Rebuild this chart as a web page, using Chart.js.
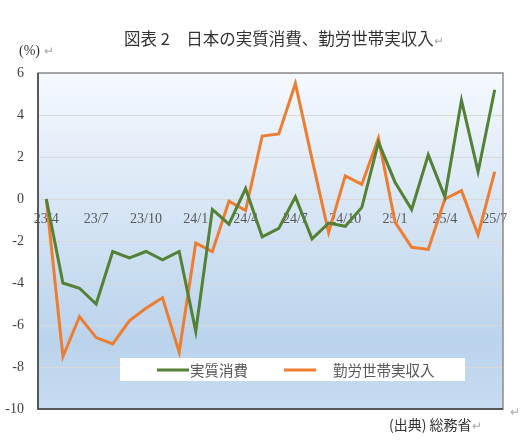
<!DOCTYPE html>
<html>
<head>
<meta charset="utf-8">
<script src="https://cdn.jsdelivr.net/npm/chart.js@4"></script>
<style>
  body { margin: 0; background: #fff; }
  #wrap { position: relative; width: 529px; height: 443px; }
  .txt { position: absolute; white-space: nowrap; color: #333; font-family: "Noto Sans CJK JP", sans-serif; }
  .ret { color: #aaa; font-size: 12px; }
</style>
</head>
<body>
<div id="wrap">
  <canvas id="chart" width="529" height="443"></canvas>
  <div class="txt" style="left:124px; top:26px; font-size:16.5px;">図表 2　日本の実質消費、勤労世帯実収入<span class="ret">↵</span></div>
  <div class="txt" style="left:19px; top:43px; font-size:14px; font-family:'Liberation Serif',serif;">(%) <span class="ret">↵</span></div>
  <div class="txt" style="left:389px; top:414px; font-size:14px;">(出典) 総務省<span class="ret">↵</span></div>
  <div class="txt ret" style="left:510px; top:402px;">↵</div>
</div>
<script>
const months = ['23/4', '23/5', '23/6', '23/7', '23/8', '23/9', '23/10', '23/11', '23/12',
                '24/1', '24/2', '24/3', '24/4', '24/5', '24/6', '24/7', '24/8', '24/9', '24/10', '24/11', '24/12',
                '25/1', '25/2', '25/3', '25/4', '25/5', '25/6', '25/7'];
const realConsumption = [0.0, -4.0, -4.25, -5.0, -2.5, -2.8, -2.5, -2.9, -2.5,
                         -6.3, -0.5, -1.2, 0.5, -1.8, -1.4, 0.1, -1.9, -1.15, -1.3, -0.4, 2.7,
                         0.8, -0.5, 2.1, 0.1, 4.7, 1.3, 5.2];
const realIncome = [0.0, -7.5, -5.6, -6.6, -6.9, -5.8, -5.2, -4.7, -7.3,
                    -2.1, -2.5, -0.1, -0.55, 3.0, 3.1, 5.5, 1.9, -1.6, 1.1, 0.7, 2.9,
                    -1.1, -2.3, -2.4, 0.0, 0.4, -1.7, 1.3];
const yTicks = [6, 4, 2, 0, -2, -4, -6, -8, -10];

const plotBackground = {
    id: 'plotBackground',
    beforeDraw(chart) {
        const { ctx, chartArea: a } = chart;
        const g = ctx.createLinearGradient(0, a.top, 0, a.bottom);
        g.addColorStop(0, '#f5f9fe');
        g.addColorStop(0.8, '#bad3ec');
        g.addColorStop(1, '#c8dcf1');
        ctx.save();
        ctx.fillStyle = g;
        ctx.fillRect(a.left, a.top, a.right - a.left, a.bottom - a.top);
        ctx.restore();
    },
    afterDraw(chart) {
        const { ctx, chartArea: a } = chart;
        ctx.save();
        ctx.lineWidth = 1.5;
        ctx.strokeStyle = '#8c8c8c';
        ctx.strokeRect(a.left, a.top, a.right - a.left, a.bottom - a.top);
        ctx.strokeStyle = '#404040';
        ctx.beginPath();
        ctx.moveTo(a.left, a.top);
        ctx.lineTo(a.left, a.bottom);
        ctx.lineTo(a.right, a.bottom);
        ctx.stroke();
        ctx.restore();
    }
};

// legend box drawn inside the plot area
const innerLegend = {
    id: 'innerLegend',
    afterDatasetsDraw(chart) {
        const ctx = chart.ctx;
        ctx.save();
        ctx.fillStyle = '#ffffff';
        ctx.fillRect(120, 358, 345, 23);
        const items = [[157, 190], [284, 333]];
        ctx.font = '14.5px "Noto Sans CJK JP"';
        ctx.textBaseline = 'middle';
        chart.data.datasets.forEach((ds, i) => {
            ctx.strokeStyle = ds.borderColor;
            ctx.lineWidth = 3;
            ctx.beginPath();
            ctx.moveTo(items[i][0], 370);
            ctx.lineTo(items[i][0] + 32, 370);
            ctx.stroke();
            ctx.fillStyle = '#595959';
            ctx.fillText(ds.label, items[i][1], 370);
        });
        ctx.restore();
    }
};

new Chart(document.getElementById('chart'), {
    type: 'line',
    data: {
        labels: months,
        datasets: [
            {
                label: '実質消費',
                data: realConsumption,
                borderColor: '#538135',
                borderWidth: 3,
                pointRadius: 0,
                tension: 0
            },
            {
                label: '勤労世帯実収入',
                data: realIncome,
                borderColor: '#ed7d31',
                borderWidth: 3,
                pointRadius: 0,
                tension: 0
            }
        ]
    },
    options: {
        responsive: false,
        animation: false,
        layout: {
            padding: { top: 73, right: 26, bottom: 34, left: 0 }
        },
        plugins: {
            legend: { display: false },
            tooltip: { enabled: false }
        },
        scales: {
            x: {
                position: { y: 0 },
                offset: true,
                grid: { display: false },
                border: { display: false },
                ticks: {
                    autoSkip: false,
                    maxRotation: 0,
                    padding: 4,
                    color: '#595959',
                    font: { family: 'Liberation Serif', size: 14 },
                    callback: (v, i) => (i % 3 === 0 ? months[i] : '')
                }
            },
            y: {
                min: -10,
                max: 6,
                afterFit: s => { s.width = 38; },
                afterBuildTicks: s => { s.ticks = yTicks.map(v => ({ value: v })); },
                grid: { color: '#d9d9d9', drawTicks: false },
                border: { display: false },
                ticks: {
                    padding: 14,
                    color: '#404040',
                    font: { family: 'Liberation Serif', size: 14 }
                }
            }
        }
    },
    plugins: [plotBackground, innerLegend]
});
</script>
</body>
</html>
